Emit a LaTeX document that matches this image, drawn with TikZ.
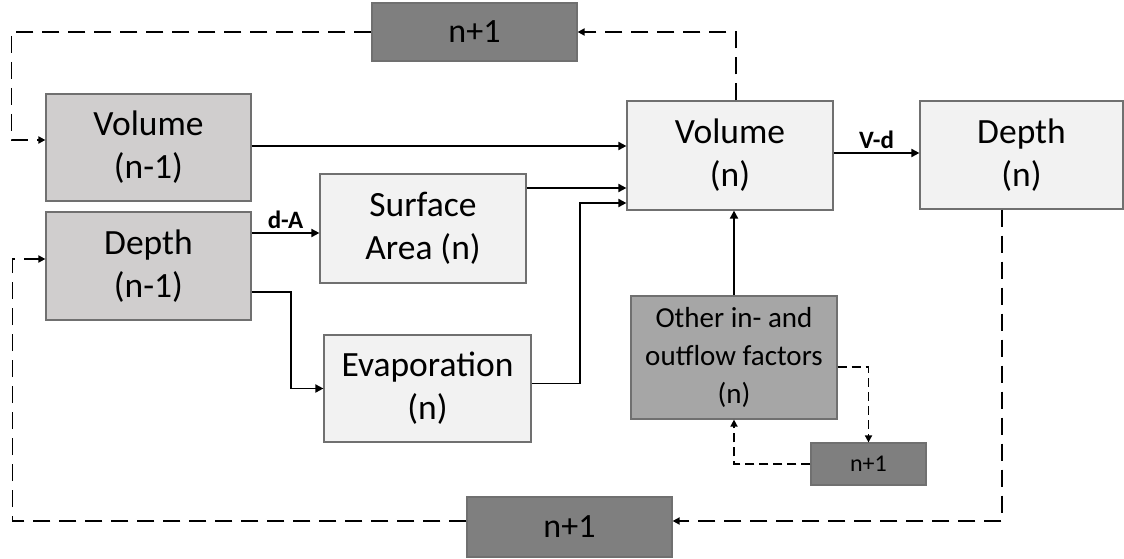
\documentclass[tikz,border=0pt]{standalone}
\usepackage{fontspec}
\setmainfont{Carlito}
\usetikzlibrary{arrows.meta,positioning,calc}
\definecolor{darkbox}{HTML}{7F7F7F}
\definecolor{midbox}{HTML}{D0CECE}
\definecolor{lightbox}{HTML}{F2F2F2}
\definecolor{otherbox}{HTML}{A6A6A6}
\definecolor{boxline}{HTML}{707070}
\tikzset{
  box/.style={draw=boxline, line width=1.2pt, rectangle, align=center, inner sep=0pt,
    font=\fontsize{35.5}{43}\selectfont},
  prevbox/.style={box, fill=midbox, minimum width=205pt, minimum height=107pt},
  curbox/.style={box, fill=lightbox, minimum width=206pt, minimum height=108pt},
  nextbox/.style={box, fill=darkbox, minimum width=205pt, minimum height=59pt},
  arr/.style={line width=1.8pt, -{Triangle[length=8pt,width=8pt]}},
  darr/.style={line width=1.8pt, dash pattern=on 17pt off 9pt, -{Triangle[length=7pt,width=7pt]}},
  sdarr/.style={line width=1.6pt, dash pattern=on 9pt off 5pt, -{Triangle[length=7pt,width=7pt]}},
  lbl/.style={font=\fontsize{25}{29}\bfseries\selectfont, above, inner sep=3pt}
}
\begin{document}
\begin{tikzpicture}[x=1pt,y=-1pt]
\useasboundingbox (0,0) rectangle (1124,559);

\node[prevbox] (vol1) at (148.5,147.5) {Volume\\(n-1)};
\node[prevbox, minimum height=108pt] (dep1) at (148.5,266) {Depth\\(n-1)};
\node[curbox, minimum height=109pt] (surf) at (423,228.5) {Surface\\Area (n)};
\node[curbox, minimum width=207pt, minimum height=107pt] (evap) at (427.5,388.5) {Evaporation\\(n)};
\node[curbox, minimum height=109pt] (voln) at (730,155.5) {Volume\\(n)};
\node[curbox, minimum width=203pt] (depn) at (1021.5,155) {Depth\\(n)};
\node[box, fill=otherbox, minimum width=206pt, minimum height=123pt,
  font=\fontsize{29}{38}\selectfont] (other) at (734,357.5) {Other in- and\\outflow factors\\(n)};
\node[box, fill=darkbox, minimum width=115pt, minimum height=42pt,
  font=\fontsize{24}{28}\selectfont] (small) at (868.5,464) {n+1};
\node[nextbox, minimum height=58pt, font=\fontsize{34}{40}\selectfont] (top) at (474.5,32) {n+1};
\node[nextbox, minimum height=60pt, font=\fontsize{34}{40}\selectfont] (bot) at (569.5,527) {n+1};

% solid connectors
\coordinate (v1e) at ([yshift=1.5pt]vol1.east);
\draw[arr] (v1e) -- (v1e -| voln.west);

\coordinate (se) at ([yshift=40.5pt]surf.east);
\draw[arr] (se) -- (se -| voln.west);

\coordinate (ee) at ([yshift=5pt]evap.east);
\coordinate (vw3) at ([yshift=-47.5pt]voln.west);
\draw[arr] (ee) -- ++(48,0) |- (vw3);

\coordinate (d1a) at ([yshift=33pt]dep1.east);
\draw[arr] (d1a) -- (d1a -| surf.west) node[lbl, midway] {d-A};

\coordinate (d1b) at ([yshift=-26pt]dep1.east);
\draw[arr] (d1b) -- ++(39,0) |- (evap.west);

\coordinate (vne) at ([yshift=2.5pt]voln.east);
\draw[arr] (vne) -- (vne -| depn.west) node[lbl, midway] {V-d};

\draw[arr] (other.north) -- (other.north |- voln.south);

% dashed feedback loops
\coordinate (vnn) at ([xshift=6pt]voln.north);
\draw[darr] (vnn) |- (top.east);

\coordinate (v1w) at ([yshift=7.5pt]vol1.west);
\draw[darr] (top.west) -- ++(-360,0) |- (v1w);

\coordinate (dns) at ([xshift=-19.5pt]depn.south);
\coordinate (be) at ([yshift=6pt]bot.east);
\draw[darr] (dns) |- (be);

\coordinate (bw) at ([yshift=6pt]bot.west);
\coordinate (d1w) at ([yshift=7pt]dep1.west);
\draw[darr] (bw) -- ++(-454,0) |- (d1w);

\coordinate (oe) at ([yshift=-9.5pt]other.east);
\draw[sdarr] (oe) -| (small.north);
\draw[sdarr] (small.west) -| (other.south);
\end{tikzpicture}
\end{document}
